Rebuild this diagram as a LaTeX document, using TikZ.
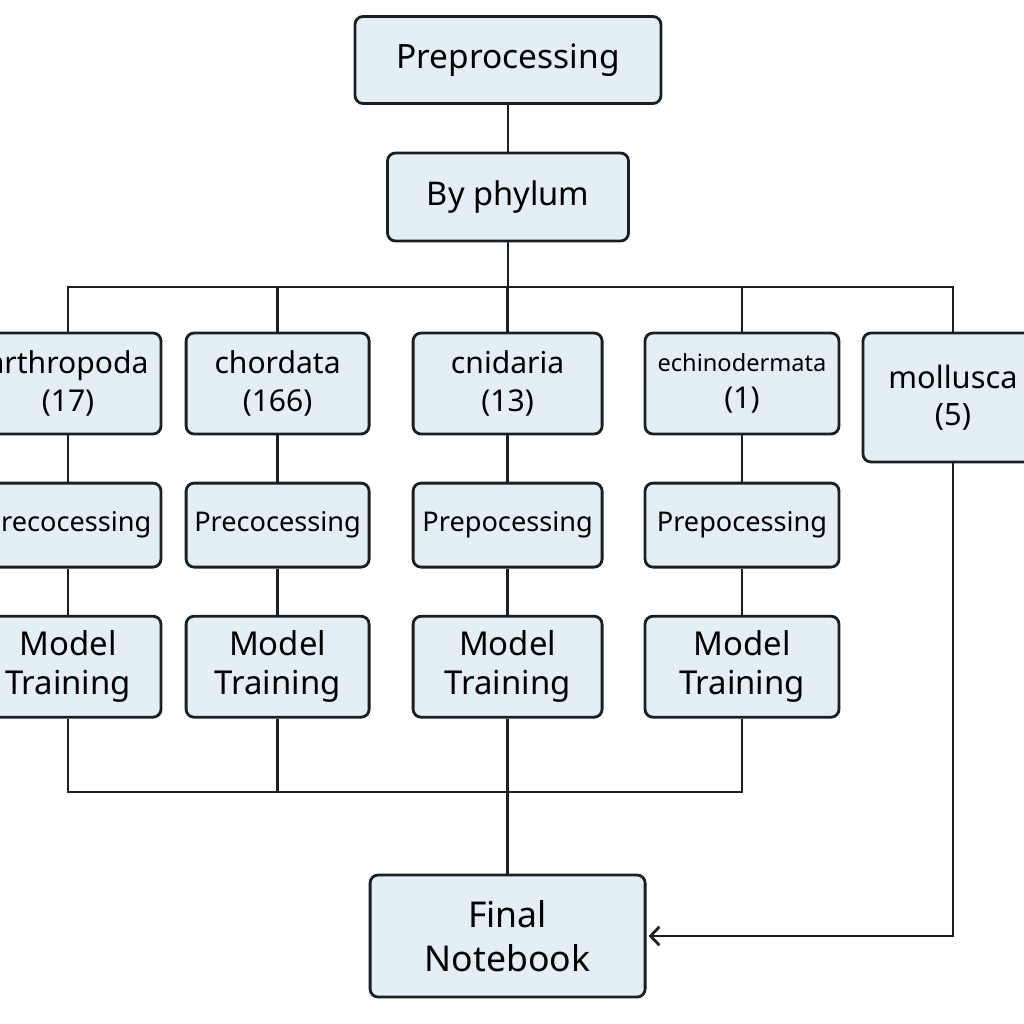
\documentclass[tikz,border=0pt]{standalone}
\usepackage{fontspec}
\setmainfont{Noto Sans}
\usetikzlibrary{positioning,arrows.meta}
\definecolor{boxfill}{HTML}{E3EEF5}
\definecolor{linecol}{HTML}{1A1F24}

\begin{document}
\begin{tikzpicture}[node distance=3.54cm,on grid,>={Straight Barb[length=2.2mm,width=4.6mm]},
		box/.style={rectangle,rounded corners=0.2cm,draw=linecol,line width=0.07cm,fill=boxfill,align=center,inner sep=0pt},
		phylum/.style={box,minimum height=2.525cm,font=\fontsize{21.4}{26.5}\selectfont},
		prep/.style={box,minimum height=2.1cm,font=\fontsize{19.3}{22}\selectfont},
		train/.style={box,minimum height=2.525cm,font=\fontsize{23.4}{28}\selectfont},
		wire/.style={draw=linecol,line width=0.07cm}]
		\useasboundingbox (0,0) rectangle (25.6,-25.6);
		\node[box,minimum width=7.65cm,minimum height=2.175cm,font=\fontsize{23.8}{27}\selectfont] (pre) at (12.7,-1.5) {Preprocessing};
		\node[box,minimum width=6.025cm,minimum height=2.2cm,font=\fontsize{23.2}{27}\selectfont] (phy) [below=3.425cm of pre] {By phylum};
		\coordinate (split) at (12.7,-7.175);
		
		% one column per phylum
		\node[phylum,minimum width=4.65cm] (arth) at (1.7,-9.5875) {arthropoda\\(17)};
		\node[phylum,minimum width=4.575cm] (chor) at (6.94,-9.5875) {chordata\\(166)};
		\node[phylum,minimum width=4.725cm] (cnid) at (12.69,-9.5875) {cnidaria\\(13)};
		\node[phylum,minimum width=4.85cm,font=\fontsize{16.8}{26.5}\selectfont] (echi) at (18.55,-9.5875) {echinodermata\\\fontsize{21.4}{26.5}\selectfont(1)};
		\node[phylum,minimum width=4.5cm,minimum height=3.225cm,font=\fontsize{21.9}{26.5}\selectfont] (moll) at (23.825,-9.9375) {mollusca\\(5)};
		
		\node[prep,minimum width=4.65cm] (arthP) [below=of arth] {Precocessing};
		\node[prep,minimum width=4.575cm] (chorP) [below=of chor] {Precocessing};
		\node[prep,minimum width=4.725cm] (cnidP) [below=of cnid] {Prepocessing};
		\node[prep,minimum width=4.85cm] (echiP) [below=of echi] {Prepocessing};
		
		\node[train,minimum width=4.65cm] (arthM) [below=of arthP] {Model\\Training};
		\node[train,minimum width=4.575cm] (chorM) [below=of chorP] {Model\\Training};
		\node[train,minimum width=4.725cm] (cnidM) [below=of cnidP] {Model\\Training};
		\node[train,minimum width=4.85cm] (echiM) [below=of echiP] {Model\\Training};
		
		\node[box,minimum width=6.875cm,minimum height=3.05cm,font=\fontsize{25.3}{31}\selectfont] (fin) at (12.69,-23.4) {Final\\Notebook};
		\coordinate (merge) at (12.69,-19.8);
		
		\path[wire]
		(pre) -- (phy)
		(phy) -- (split)
		(arth.north) |- (split) -| (moll.north)
		(chor.north) -- (chor |- split)
		(cnid.north) -- (cnid |- split)
		(echi.north) -- (echi |- split);
		
		\foreach \p in {arth,chor,cnid,echi}{
			\path[wire] (\p) -- (\p P) (\p P) -- (\p M);
		}
		
		\path[wire]
		(arthM.south) |- (echiM.south |- merge) -- (echiM.south)
		(chorM.south) -- (chorM |- merge)
		(cnidM.south) -- (fin);
		\path[wire,->,shorten >=1.5pt] (moll.south) |- (fin.east);
\end{tikzpicture}
\end{document}
